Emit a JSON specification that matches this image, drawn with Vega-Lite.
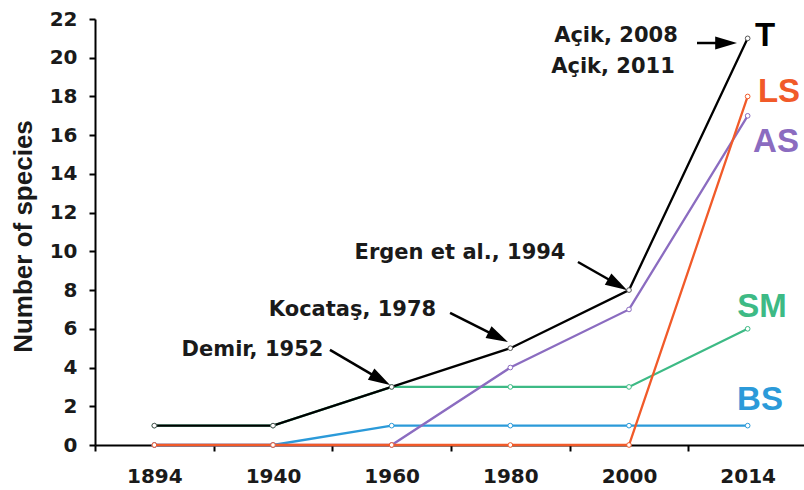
{
  "$schema": "https://vega.github.io/schema/vega-lite/v6.json",
  "autosize": {"type": "none"},
  "padding": {"left": 95, "top": 19, "right": 0, "bottom": 45},
  "width": 712,
  "height": 426,
  "background": "white",
  "config": {
    "view": {"stroke": null},
    "font": "Liberation Sans",
    "axis": {
      "domainColor": "#000", "domainWidth": 2, "tickColor": "#000", "tickWidth": 2, "tickSize": 6,
      "labelFont": "DejaVu Sans", "labelFontWeight": "bold", "labelFontSize": 20, "labelColor": "#1a1a1a",
      "titleFont": "Liberation Sans", "titleFontWeight": "bold", "titleColor": "#1a1a1a", "grid": false
    }
  },
  "datasets": {
    "series": [
      {"year": "1894", "series": "SM", "value": 1},
      {"year": "1940", "series": "SM", "value": 1},
      {"year": "1960", "series": "SM", "value": 3},
      {"year": "1980", "series": "SM", "value": 3},
      {"year": "2000", "series": "SM", "value": 3},
      {"year": "2014", "series": "SM", "value": 6},
      {"year": "1894", "series": "BS", "value": 0},
      {"year": "1940", "series": "BS", "value": 0},
      {"year": "1960", "series": "BS", "value": 1},
      {"year": "1980", "series": "BS", "value": 1},
      {"year": "2000", "series": "BS", "value": 1},
      {"year": "2014", "series": "BS", "value": 1},
      {"year": "1894", "series": "AS", "value": 0},
      {"year": "1940", "series": "AS", "value": 0},
      {"year": "1960", "series": "AS", "value": 0},
      {"year": "1980", "series": "AS", "value": 4},
      {"year": "2000", "series": "AS", "value": 7},
      {"year": "2014", "series": "AS", "value": 17},
      {"year": "1894", "series": "LS", "value": 0},
      {"year": "1940", "series": "LS", "value": 0},
      {"year": "1960", "series": "LS", "value": 0},
      {"year": "1980", "series": "LS", "value": 0},
      {"year": "2000", "series": "LS", "value": 0},
      {"year": "2014", "series": "LS", "value": 18},
      {"year": "1894", "series": "T", "value": 1},
      {"year": "1940", "series": "T", "value": 1},
      {"year": "1960", "series": "T", "value": 3},
      {"year": "1980", "series": "T", "value": 5},
      {"year": "2000", "series": "T", "value": 8},
      {"year": "2014", "series": "T", "value": 21}
    ],
    "notes": [
      {"label": "Açik, 2008", "u": 4.39, "v": 20.81},
      {"label": "Açik, 2011", "u": 4.365, "v": 19.23},
      {"label": "Ergen et al., 1994", "u": 3.076, "v": 9.59},
      {"label": "Kocataş, 1978", "u": 2.17, "v": 6.64},
      {"label": "Demir, 1952", "u": 1.327, "v": 4.6}
    ],
    "arrows": [
      {"ref": "Açik", "u": 5.073, "v": 20.76, "u2": 5.3, "v2": 20.76, "tu": 5.41, "tv": 20.76},
      {"ref": "Ergen", "u": 4.07, "v": 9.45, "u2": 4.4, "v2": 8.3, "tu": 4.483, "tv": 8.005},
      {"ref": "Kocataş", "u": 2.992, "v": 6.82, "u2": 3.39, "v2": 5.6, "tu": 3.48, "tv": 5.32},
      {"ref": "Demir", "u": 1.98, "v": 4.91, "u2": 2.4, "v2": 3.4, "tu": 2.486, "tv": 3.1}
    ],
    "tags": [
      {"series": "T", "u": 5.646, "v": 20.62},
      {"series": "LS", "u": 5.764, "v": 17.73},
      {"series": "AS", "u": 5.739, "v": 15.13},
      {"series": "SM", "u": 5.621, "v": 6.61},
      {"series": "BS", "u": 5.604, "v": 1.81}
    ]
  },
  "resolve": {"scale": {"x": "independent"}, "axis": {"x": "independent", "y": "independent"}},
  "layer": [
    {
      "data": {"name": "series"},
      "encoding": {
        "x": {
          "field": "year", "type": "ordinal", "sort": null,
          "scale": {"type": "band", "paddingInner": 0, "paddingOuter": 0},
          "axis": {"title": null, "tickBand": "extent", "labelAngle": 0, "labelPadding": 15}
        },
        "y": {
          "field": "value", "type": "quantitative",
          "scale": {"domain": [0, 22], "nice": false},
          "axis": {
            "title": "Number of species", "values": [0, 2, 4, 6, 8, 10, 12, 14, 16, 18, 20, 22],
            "labelPadding": 12, "titleFontSize": 26,
            "titleX": -64, "titleY": 217, "titleAngle": -90, "titleAlign": "center", "titleBaseline": "alphabetic"
          }
        }
      },
      "layer": [
        {
          "mark": {"type": "line", "strokeWidth": 2.3},
          "encoding": {
            "color": {
              "field": "series", "type": "nominal", "legend": null,
              "scale": {"domain": ["SM", "BS", "AS", "LS", "T"], "range": ["#3dba85", "#2b9ad9", "#8b6cc0", "#f15a29", "#000000"]}
            }
          }
        },
        {
          "mark": {"type": "point", "filled": false, "fill": "white", "strokeWidth": 1, "size": 22, "opacity": 1},
          "encoding": {
            "stroke": {
              "field": "series", "type": "nominal", "legend": null,
              "scale": {"domain": ["SM", "BS", "AS", "LS", "T"], "range": ["#3dba85", "#2b9ad9", "#8b6cc0", "#f15a29", "#555555"]}
            }
          }
        }
      ]
    },
    {
      "layer": [
        {
          "data": {"name": "notes"},
          "mark": {"type": "text", "font": "DejaVu Sans", "fontWeight": "bold", "fontSize": 21, "align": "center", "baseline": "alphabetic", "color": "#1a1a1a"},
          "encoding": {
            "x": {"field": "u", "type": "quantitative", "scale": {"domain": [0, 6], "nice": false, "zero": false}, "axis": null},
            "y": {"field": "v", "type": "quantitative", "scale": {"domain": [0, 22], "nice": false}, "axis": null},
            "text": {"field": "label"}
          }
        },
        {
          "data": {"name": "arrows"},
          "mark": {"type": "rule", "strokeWidth": 2.5, "color": "#000"},
          "encoding": {
            "x": {"field": "u", "type": "quantitative", "axis": null},
            "y": {"field": "v", "type": "quantitative", "axis": null},
            "x2": {"field": "u2"},
            "y2": {"field": "v2"}
          }
        },
        {
          "data": {"name": "arrows"},
          "transform": [{"filter": "datum.ref == 'Açik'"}],
          "mark": {"type": "point", "shape": "M0,0L-0.3,1L0.3,1Z", "filled": true, "color": "#000", "opacity": 1, "size": 1900, "angle": 90},
          "encoding": {
            "x": {"field": "tu", "type": "quantitative", "axis": null},
            "y": {"field": "tv", "type": "quantitative", "axis": null}
          }
        },
        {
          "data": {"name": "arrows"},
          "transform": [{"filter": "datum.ref == 'Ergen' || datum.ref == 'Demir'"}],
          "mark": {"type": "point", "shape": "M0,0L-0.3,1L0.3,1Z", "filled": true, "color": "#000", "opacity": 1, "size": 1900, "angle": 120},
          "encoding": {
            "x": {"field": "tu", "type": "quantitative", "axis": null},
            "y": {"field": "tv", "type": "quantitative", "axis": null}
          }
        },
        {
          "data": {"name": "arrows"},
          "transform": [{"filter": "datum.ref == 'Kocataş'"}],
          "mark": {"type": "point", "shape": "M0,0L-0.3,1L0.3,1Z", "filled": true, "color": "#000", "opacity": 1, "size": 1900, "angle": 117},
          "encoding": {
            "x": {"field": "tu", "type": "quantitative", "axis": null},
            "y": {"field": "tv", "type": "quantitative", "axis": null}
          }
        },
        {
          "data": {"name": "tags"},
          "mark": {"type": "text", "font": "Liberation Sans", "fontWeight": "bold", "fontSize": 33, "align": "center", "baseline": "alphabetic"},
          "encoding": {
            "x": {"field": "u", "type": "quantitative", "axis": null},
            "y": {"field": "v", "type": "quantitative", "axis": null},
            "text": {"field": "series"},
            "color": {
              "field": "series", "type": "nominal", "legend": null,
              "scale": {"domain": ["SM", "BS", "AS", "LS", "T"], "range": ["#3dba85", "#2b9ad9", "#8b6cc0", "#f15a29", "#000000"]}
            }
          }
        }
      ]
    }
  ]
}
